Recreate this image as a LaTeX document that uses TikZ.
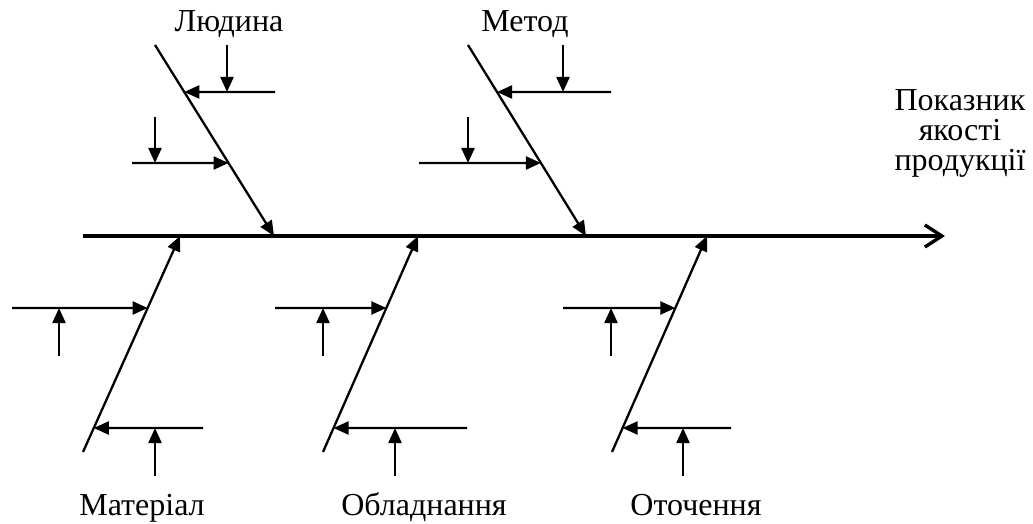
\documentclass[tikz,border=0pt]{standalone}
\usepackage{fontspec}
\setmainfont{Liberation Serif}
\usetikzlibrary{arrows.meta,calc}
\tikzset{
  bone/.style={line width=2.3pt,-{Triangle[length=15pt,width=13pt]}},
  sub/.style={line width=2.3pt,-{Triangle[length=15pt,width=13pt]}},
  spine/.style={line width=3.4pt,-{Straight Barb[length=17pt,width=22pt,line width=3.4pt]}},
  lbl/.style={inner sep=0pt,font=\fontsize{32}{30}\selectfont}
}
\begin{document}
\begin{tikzpicture}[x=1pt,y=-1pt]
\useasboundingbox (0,0) rectangle (1033,524);
% spine
\coordinate (s0) at (83,236);
\coordinate (s1) at (945,236);
\draw[spine] (s0) -- (s1);
% top bones
\coordinate (t1s) at (155,45);  \coordinate (t1e) at (274,236);
\coordinate (t2s) at (468,45);  \coordinate (t2e) at (586,236);
\draw[bone] (t1s) -- (t1e);
\draw[bone] (t2s) -- (t2e);
% top bone 1 subs
\coordinate (t1a) at (275,92);  \coordinate (t1ap) at ($(t1s)!{47/191}!(t1e)$);
\coordinate (t1av) at (227,45); \coordinate (t1avp) at (227,92);
\coordinate (t1b) at (132,163); \coordinate (t1bp) at ($(t1s)!{118/191}!(t1e)$);
\coordinate (t1bv) at (155,117); \coordinate (t1bvp) at (155,163);
\draw[sub] (t1a) -- (t1ap);
\draw[sub] (t1av) -- (t1avp);
\draw[sub] (t1b) -- (t1bp);
\draw[sub] (t1bv) -- (t1bvp);
% top bone 2 subs
\coordinate (t2a) at (611,92);  \coordinate (t2ap) at ($(t2s)!{47/191}!(t2e)$);
\coordinate (t2av) at (563,45); \coordinate (t2avp) at (563,92);
\coordinate (t2b) at (419,163); \coordinate (t2bp) at ($(t2s)!{118/191}!(t2e)$);
\coordinate (t2bv) at (468,117); \coordinate (t2bvp) at (468,163);
\draw[sub] (t2a) -- (t2ap);
\draw[sub] (t2av) -- (t2avp);
\draw[sub] (t2b) -- (t2bp);
\draw[sub] (t2bv) -- (t2bvp);
% bottom bones
\foreach \n/\xs/\xe/\ha/\va/\hb/\vb in {1/83/180/12/59/203/155, 2/323/418/275/323/467/395, 3/612/707/563/611/731/683}{
  \coordinate (b\n s) at (\xs,452);
  \coordinate (b\n e) at (\xe,236);
  \draw[bone] (b\n s) -- (b\n e);
  \coordinate (b\n a) at (\ha,308);
  \coordinate (b\n ap) at ($(b\n s)!{144/216}!(b\n e)$);
  \coordinate (b\n av) at (\va,356);
  \coordinate (b\n avp) at (\va,308);
  \coordinate (b\n b) at (\hb,428);
  \coordinate (b\n bp) at ($(b\n s)!{24/216}!(b\n e)$);
  \coordinate (b\n bv) at (\vb,476);
  \coordinate (b\n bvp) at (\vb,428);
  \draw[sub] (b\n a) -- (b\n ap);
  \draw[sub] (b\n av) -- (b\n avp);
  \draw[sub] (b\n b) -- (b\n bp);
  \draw[sub] (b\n bv) -- (b\n bvp);
}
% labels
\node[lbl,anchor=base] (l1) at (229,32) {Людина};
\node[lbl,anchor=base] (l2) at (525,32) {Метод};
\node[lbl,anchor=base] (l3) at (142,515) {Матеріал};
\node[lbl,anchor=base] (l4) at (424,515) {Обладнання};
\node[lbl,anchor=base] (l5) at (696,515) {Оточення};
\node[lbl,align=center,anchor=north] (res) at (960,89) {Показник\\якості\\продукції};
\end{tikzpicture}
\end{document}
